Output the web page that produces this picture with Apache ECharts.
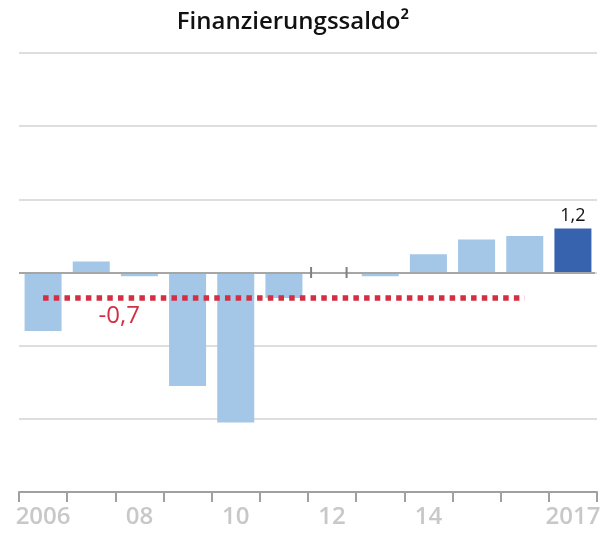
<!DOCTYPE html>
<html>
<head>
<meta charset="utf-8">
<script src="https://cdn.jsdelivr.net/npm/echarts@6/dist/echarts.min.js"></script>
<style>
html,body{margin:0;padding:0;background:#fff;}
#chart{width:613px;height:533px;}
</style>
</head>
<body>
<div id="chart"></div>
<script>
var categories = ['2006','2007','2008','2009','2010','2011','2012','2013','2014','2015','2016','2017'];
var tickLabels = ['2006','','08','','10','','12','','14','','','2017'];
var values = [-1.6, 0.3, -0.1, -3.1, -4.1, -0.7, 0, -0.1, 0.5, 0.9, 1.0, 1.2];
var averageValue = -0.7;
var averageLabel = '-0,7';
var averageFrom = '2006';
var averageTo = '2016';
var highlightCategory = '2017';
var breakCategory = '2012';
var yMin = -6, yMax = 6, yStep = 2;

var FONT = '"Open Sans", sans-serif';
var chart = echarts.init(document.getElementById('chart'), null, {renderer: 'canvas'});

var barData = values.map(function (v, i) {
  var hi = categories[i] === highlightCategory;
  return {
    value: v,
    itemStyle: {color: hi ? '#3762AD' : '#A4C6E7'},
    label: hi ? {show: true, position: 'top', distance: 4, color: '#111', fontSize: 18, fontFamily: FONT,
      formatter: function (p) { return String(p.value).replace('.', ','); }} : {show: false}
  };
});

chart.setOption({
  animation: false,
  title: {
    text: 'Finanzierungssaldo²',
    left: 288, textAlign: 'center', top: 5,
    textStyle: {fontFamily: FONT, fontWeight: 600, fontSize: 24, color: '#111'}
  },
  grid: {left: 19, right: 16, top: 53, bottom: 41, containLabel: false},
  xAxis: {
    type: 'category',
    data: categories,
    axisLine: {onZero: false, lineStyle: {color: '#A0A0A0', width: 2}},
    axisTick: {show: true, interval: 0, length: 10, lineStyle: {color: '#A0A0A0', width: 2}},
    axisLabel: {
      interval: 0, margin: 13, color: '#C8C8C8', fontFamily: FONT, fontWeight: 600, fontSize: 24,
      formatter: function (v, i) { return tickLabels[i]; }
    },
    splitLine: {show: false}
  },
  yAxis: {
    type: 'value', min: yMin, max: yMax, interval: yStep,
    axisLine: {show: false}, axisTick: {show: false}, axisLabel: {show: false},
    splitLine: {lineStyle: {color: '#DEDEDE', width: 2}}
  },
  series: [
    {
      type: 'bar',
      data: barData,
      barWidth: 37,
      z: 2,
      markLine: {
        silent: true,
        symbol: 'none',
        label: {show: false},
        data: [
          [{xAxis: 0, yAxis: 0, x: 19}, {yAxis: 0, x: 595}]
        ],
        lineStyle: {color: '#A6A6A6', width: 2, type: 'solid'},
        z: 3
      }
    },
    {
      type: 'line',
      data: [],
      z: 5,
      markLine: {
        silent: true,
        symbol: 'none',
        label: {show: false},
        lineStyle: {color: '#D42E42', width: 5.5, type: [5.5, 5.2]},
        data: [[{coord: [averageFrom, averageValue]}, {coord: [averageTo, averageValue]}]]
      },
      markPoint: {
        symbol: 'circle', symbolSize: 0,
        label: {show: true, color: '#D42E42', fontFamily: FONT, fontSize: 24, offset: [28, 18],
          formatter: averageLabel},
        data: [{coord: ['2007', averageValue]}]
      }
    },
    {
      type: 'custom',
      z: 6,
      data: [[breakCategory, 0]],
      renderItem: function (params, api) {
        var c = api.coord([api.value(0), 0]);
        var style = {stroke: '#808080', lineWidth: 2};
        return {
          type: 'group',
          children: [
            {type: 'line', shape: {x1: c[0] - 21, y1: c[1] - 5.5, x2: c[0] - 21, y2: c[1] + 5.5}, style: style},
            {type: 'line', shape: {x1: c[0] + 14.5, y1: c[1] - 5.5, x2: c[0] + 14.5, y2: c[1] + 5.5}, style: style}
          ]
        };
      }
    }
  ]
});
</script>
</body>
</html>
